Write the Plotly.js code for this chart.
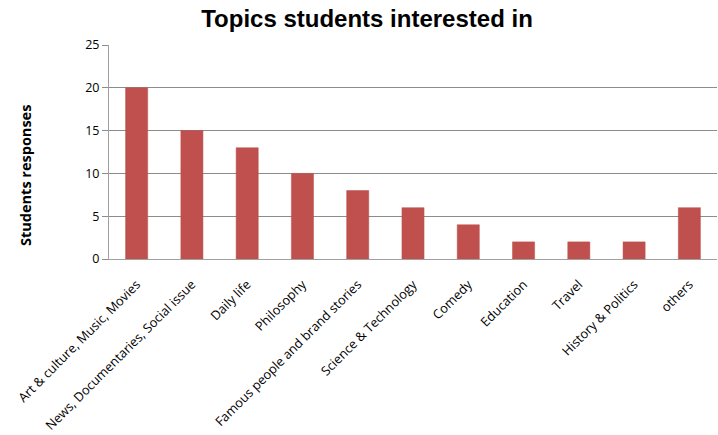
<!DOCTYPE html>
<html>
<head>
<meta charset="utf-8">
<script src="https://cdn.plot.ly/plotly-3.0.1.min.js"></script>
<style>html,body{margin:0;padding:0;background:#fff}#chart{width:718px;height:435px}</style>
</head>
<body>
<div id="chart"></div>
<script>
const categories = [
  "Art & culture, Music, Movies",
  "News, Documentaries, Social issue",
  "Daily life",
  "Philosophy",
  "Famous people and brand stories",
  "Science & Technology",
  "Comedy",
  "Education",
  "Travel",
  "History & Politics",
  "others"
];
const responses = [20, 15, 13, 10, 8, 6, 4, 2, 2, 2, 6];
const yTicks = [0, 5, 10, 15, 20, 25];

const trace = {
  type: "bar",
  x: categories,
  y: responses,
  marker: {color: "#C0504D", line: {color: "#B9504D", width: 0.5}},
  hoverinfo: "x+y"
};

const layout = {
  width: 718, height: 435,
  margin: {l: 109, r: 1, t: 45, b: 176},
  paper_bgcolor: "#ffffff",
  plot_bgcolor: "#ffffff",
  title: {
    text: "<b>Topics students interested in</b>",
    font: {family: "Liberation Sans, Arial, sans-serif", size: 24, color: "#000"},
    x: 367 / 718, xanchor: "center", y: 1 - 19 / 435, yanchor: "middle"
  },
  bargap: 0.6,
  showlegend: false,
  xaxis: {
    type: "category",
    tickangle: -45,
    tickfont: {family: "Open Sans, sans-serif", size: 12.8, color: "#000"},
    showline: true, linecolor: "#A0A0A0", linewidth: 1,
    showgrid: false, ticks: "outside", ticklen: 12, tickcolor: "rgba(0,0,0,0)",
    zeroline: false,
    automargin: false
  },
  yaxis: {
    range: [0, 25],
    tickvals: yTicks,
    ticktext: yTicks.map(String),
    tickfont: {family: "Open Sans, sans-serif", size: 12.5, color: "#000"},
    showline: true, linecolor: "#A0A0A0", linewidth: 1,
    showgrid: true, gridcolor: "#8C8C8C", gridwidth: 1,
    ticks: "outside", ticklen: 6, tickcolor: "#8C8C8C",
    zeroline: false,
    automargin: false
  },
  annotations: [{
    text: "<b>Students responses</b>",
    xref: "paper", yref: "paper",
    x: (25 - 109) / 608, y: (259 - 175) / 214,
    xanchor: "center", yanchor: "middle",
    textangle: -90, showarrow: false,
    font: {family: "Open Sans, sans-serif", size: 14.5, color: "#000"}
  }]
};

Plotly.newPlot("chart", [trace], layout, {displayModeBar: false, staticPlot: true});
</script>
</body>
</html>
